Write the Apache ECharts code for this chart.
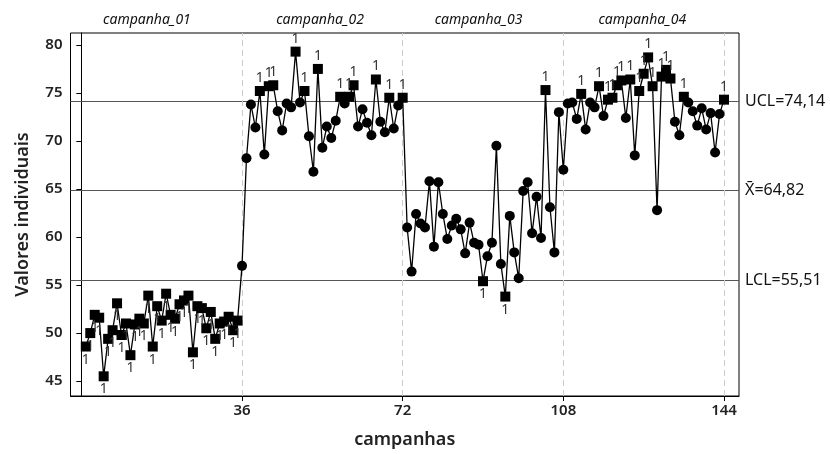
<!DOCTYPE html>
<html>
<head>
<meta charset="utf-8">
<title>Carta I - campanhas</title>
<script src="https://cdn.jsdelivr.net/npm/echarts@6/dist/echarts.min.js"></script>
</head>
<body style="margin:0">
<div id="main" style="width:830px;height:454px;"></div>
<script type="text/javascript">
// valores individuais por campanha
var campanha01 = [48.6, 50.0, 51.9, 51.6, 45.5, 49.4, 50.3, 53.1, 49.8, 51.0, 47.7, 50.9,
    51.5, 51.0, 53.9, 48.6, 52.8, 51.3, 54.1, 51.9, 51.5, 53.0, 53.4, 53.9,
    48.0, 52.8, 52.6, 50.5, 52.2, 49.4, 51.0, 51.2, 51.7, 50.3, 51.3, 57.0];
var campanha02 = [68.2, 73.8, 71.4, 75.2, 68.6, 75.7, 75.8, 73.1, 71.1, 73.9, 73.5, 79.3,
    74.0, 75.2, 70.5, 66.8, 77.5, 69.3, 71.5, 70.3, 72.1, 74.6, 73.9, 74.6,
    75.8, 71.5, 73.3, 71.9, 70.6, 76.4, 72.0, 70.9, 74.5, 71.3, 73.7, 74.5];
var campanha03 = [61.0, 56.4, 62.4, 61.4, 61.0, 65.8, 59.0, 65.7, 62.4, 59.8, 61.2, 61.9,
    60.8, 58.3, 61.5, 59.4, 59.2, 55.4, 58.0, 59.4, 69.5, 57.2, 53.8, 62.2,
    58.4, 55.7, 64.8, 65.7, 60.4, 64.2, 59.9, 75.3, 63.1, 58.4, 73.0, 67.0];
var campanha04 = [73.9, 74.0, 72.3, 74.9, 71.2, 74.0, 73.5, 75.7, 72.6, 74.3, 74.5, 75.8,
    76.3, 72.4, 76.4, 68.5, 75.2, 77.0, 78.7, 75.7, 62.8, 76.7, 77.4, 76.5,
    72.0, 70.6, 74.6, 74.0, 73.1, 71.6, 73.4, 71.2, 72.9, 68.8, 72.8, 74.3];

var stageNames = ['campanha_01', 'campanha_02', 'campanha_03', 'campanha_04'];
var stageLabelAt = [14.7, 53.5, 89, 125.7];
var stageEnds = [36, 72, 108, 144];
var xTicks = [36, 72, 108, 144];
var yTicks = [45, 50, 55, 60, 65, 70, 75, 80];

var UCL = 74.14;
var MEAN = 64.82;
var LCL = 55.51;

var xMin = -2.43, xMax = 147.36;
var yMin = 43.45, yMax = 81.24;

var valores = campanha01.concat(campanha02, campanha03, campanha04);

var pontos = valores.map(function (v, i) {
    var fora = v > UCL || v < LCL;
    return {
        value: [i + 1, v],
        symbol: fora ? 'rect' : 'circle',
        symbolSize: fora ? 10 : 10,
        label: {
            show: fora,
            position: v > UCL ? 'top' : 'bottom',
            distance: 1,
            formatter: '1'
        }
    };
});

var fonte = 'Noto Sans';
var myChart = echarts.init(document.getElementById('main'));

var option = {
    animation: false,
    textStyle: { fontFamily: fonte },
    grid: {
        left: 70.5, right: 91, top: 33, bottom: 56,
        show: true, borderColor: '#000', borderWidth: 1
    },
    xAxis: [{
        type: 'value',
        min: xMin, max: xMax,
        name: 'campanhas',
        nameLocation: 'middle',
        nameGap: 35,
        nameTextStyle: { fontSize: 18, fontWeight: 600, color: '#222', fontFamily: fonte },
        splitLine: { show: false },
        axisLine: { lineStyle: { color: '#000' } },
        axisTick: { customValues: xTicks, length: 5, lineStyle: { color: '#000' } },
        axisLabel: { customValues: xTicks, fontSize: 15, fontWeight: 600, color: '#222', margin: 7 }
    }, {
        type: 'value',
        position: 'top',
        min: xMin, max: xMax,
        splitLine: { show: false },
        axisLine: { show: false },
        axisTick: { show: false },
        axisLabel: {
            customValues: stageLabelAt,
            fontSize: 14, fontStyle: 'italic', color: '#111', margin: 6,
            formatter: function (v) {
                var k = stageLabelAt.indexOf(v);
                return k >= 0 ? stageNames[k] : '';
            }
        }
    }],
    yAxis: {
        type: 'value',
        min: yMin, max: yMax,
        name: 'Valores individuais',
        nameLocation: 'middle',
        nameGap: 39,
        nameTextStyle: { fontSize: 18, fontWeight: 600, color: '#222', fontFamily: fonte },
        splitLine: { show: false },
        axisLine: { show: true, lineStyle: { color: '#000' } },
        axisTick: { show: true, customValues: yTicks, length: 5, lineStyle: { color: '#000' } },
        axisLabel: { customValues: yTicks, fontSize: 15, fontWeight: 600, color: '#222', margin: 8 }
    },
    series: [{
        type: 'line',
        data: pontos,
        showAllSymbol: true,
        itemStyle: { color: '#000' },
        lineStyle: { color: '#000', width: 1.3 },
        label: { fontSize: 14, color: '#333', fontFamily: fonte },
        z: 5,
        markLine: {
            silent: true,
            symbol: ['none', 'none'],
            z: 1,
            data: [
                { yAxis: UCL, label: { formatter: 'UCL=74,14' } },
                { yAxis: MEAN, label: { formatter: 'X\u0304=64,82' } },
                { yAxis: LCL, label: { formatter: 'LCL=55,51' } },
                { xAxis: stageEnds[0], lineStyle: { color: '#ccc', type: [6, 4] }, label: { show: false } },
                { xAxis: stageEnds[1], lineStyle: { color: '#ccc', type: [6, 4] }, label: { show: false } },
                { xAxis: stageEnds[2], lineStyle: { color: '#ccc', type: [6, 4] }, label: { show: false } },
                { xAxis: stageEnds[3], lineStyle: { color: '#ccc', type: [6, 4] }, label: { show: false } }
            ],
            lineStyle: { color: '#555', width: 1, type: 'solid' },
            label: { position: 'end', fontSize: 16, color: '#111', fontFamily: fonte, distance: 6 }
        }
    }]
};

myChart.setOption(option);
</script>
</body>
</html>
